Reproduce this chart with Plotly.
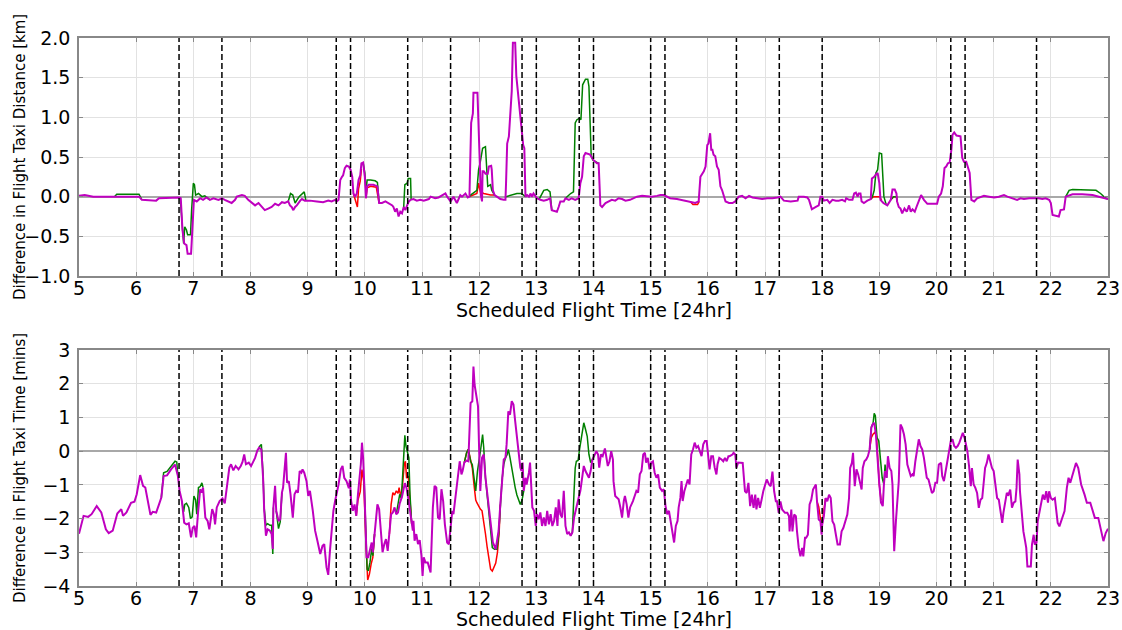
import plotly.graph_objects as go

# ---------------- DATA ----------------
vline_times = [6.75, 7.5, 9.5, 9.75, 10.75, 11.5, 12.75, 13.0, 13.75, 14.0,
               15.0, 15.25, 16.5, 17.25, 18.0, 20.25, 20.5, 21.75]

# Top panel: difference in taxi distance [km] (magenta series, full)
top_mag_t = [5.00, 5.10, 5.25, 5.60, 6.05, 6.10, 6.35, 6.40, 6.75, 6.78, 6.80, 6.81, 6.84, 6.88, 6.90, 6.96, 6.97, 6.99,
             7.01, 7.06, 7.12, 7.17, 7.23, 7.29, 7.35, 7.44, 7.50, 7.55, 7.61, 7.67, 7.73, 7.76, 7.85, 7.90, 7.96,
             8.02, 8.08, 8.14, 8.20, 8.25, 8.31, 8.37, 8.43, 8.49, 8.55, 8.60, 8.66, 8.69, 8.72, 8.75, 8.78, 8.81,
             8.87, 8.90, 8.95, 9.04, 9.16, 9.27, 9.36, 9.42, 9.48, 9.51, 9.54, 9.57, 9.60, 9.62, 9.65, 9.68, 9.72,
             9.75, 9.78, 9.80, 9.83, 9.86, 9.89, 9.92, 9.94, 9.97, 10.00, 10.02, 10.04, 10.07, 10.15, 10.20, 10.22,
             10.25, 10.30, 10.36, 10.42, 10.48, 10.50, 10.53, 10.56, 10.59, 10.62, 10.65, 10.68, 10.71, 10.74,
             10.77, 10.80, 10.85, 10.91, 10.97, 11.03, 11.12, 11.15, 11.23, 11.29, 11.35, 11.41, 11.44, 11.50,
             11.55, 11.61, 11.67, 11.70, 11.76, 11.80, 11.83, 11.86, 11.89, 11.90, 11.97, 11.99, 12.01, 12.03,
             12.05, 12.06, 12.08, 12.11, 12.15, 12.17, 12.21, 12.22, 12.24, 12.27, 12.31, 12.37, 12.43, 12.46,
             12.47, 12.49, 12.52, 12.55, 12.57, 12.59, 12.63, 12.65, 12.68, 12.71, 12.74, 12.77, 12.79, 12.81,
             12.84, 12.87, 12.90, 12.92, 12.95, 13.01, 13.07, 13.13, 13.19, 13.24, 13.27, 13.33, 13.36, 13.39,
             13.42, 13.48, 13.51, 13.57, 13.62, 13.68, 13.74, 13.77, 13.80, 13.83, 13.86, 13.94, 14.00, 14.06,
             14.09, 14.12, 14.15, 14.21, 14.27, 14.32, 14.38, 14.44, 14.50, 14.56, 14.64, 14.70, 14.76, 14.85,
             14.94, 15.02, 15.11, 15.17, 15.23, 15.29, 15.34, 15.46, 15.58, 15.69, 15.78, 15.84, 15.87, 15.93,
             15.96, 15.99, 16.01, 16.04, 16.06, 16.08, 16.10, 16.13, 16.16, 16.19, 16.22, 16.25, 16.31, 16.37,
             16.43, 16.48, 16.54, 16.60, 16.66, 16.72, 16.78, 16.87, 16.95, 17.04, 17.13, 17.22, 17.27, 17.33,
             17.45, 17.57, 17.59, 17.68, 17.74, 17.77, 17.82, 17.89, 17.94, 17.97, 18.00, 18.03, 18.09, 18.13,
             18.18, 18.24, 18.29, 18.35, 18.40, 18.42, 18.47, 18.53, 18.56, 18.59, 18.62, 18.64, 18.67, 18.69,
             18.73, 18.79, 18.85, 18.87, 18.91, 18.94, 18.97, 19.00, 19.02, 19.07, 19.14, 19.20, 19.23, 19.27,
             19.30, 19.31, 19.34, 19.37, 19.40, 19.44, 19.48, 19.52, 19.55, 19.58, 19.62, 19.65, 19.69, 19.73,
             19.78, 19.84, 19.93, 20.01, 20.04, 20.08, 20.11, 20.14, 20.17, 20.20, 20.23, 20.26, 20.28, 20.31,
             20.35, 20.42, 20.45, 20.48, 20.52, 20.55, 20.58, 20.61, 20.66, 20.71, 20.77, 20.83, 20.92, 21.01,
             21.09, 21.18, 21.24, 21.33, 21.41, 21.47, 21.53, 21.62, 21.71, 21.79, 21.85, 21.91, 21.97, 22.00,
             22.03, 22.14, 22.17, 22.23, 22.26, 22.32, 22.38, 22.55, 22.73, 22.84, 23.00]
top_mag_v = [0.01, 0.02, 0.00, 0.00, 0.00, -0.04, -0.05, -0.02, -0.01, -0.02, -0.29, -0.42, -0.59, -0.61, -0.72, -0.72, -0.59, -0.25,
             -0.04, -0.06, -0.02, -0.04, -0.01, -0.04, -0.02, -0.04, -0.02, -0.04, -0.06, -0.08, -0.04, 0.00, 0.02, 0.01, -0.04,
             -0.08, -0.11, -0.08, -0.13, -0.17, -0.15, -0.13, -0.09, -0.11, -0.07, -0.08, -0.06, -0.11, -0.13, -0.17, -0.13, -0.11,
             -0.05, -0.03, -0.05, -0.05, -0.06, -0.07, -0.05, -0.06, -0.04, -0.06, -0.04, 0.21, 0.25, 0.27, 0.36, 0.39, 0.38,
             0.34, 0.25, 0.04, 0.00, 0.04, 0.21, 0.27, 0.42, 0.43, 0.25, -0.02, 0.13, 0.15, 0.15, 0.13, 0.13,
             -0.08, -0.08, -0.06, -0.08, -0.11, -0.13, -0.19, -0.15, -0.25, -0.19, -0.21, -0.13, -0.17, -0.11,
             -0.06, -0.04, -0.03, -0.05, -0.04, -0.05, -0.03, 0.00, -0.02, -0.01, 0.02, 0.04, 0.00, -0.06,
             0.00, -0.08, 0.02, 0.00, 0.04, -0.01, 0.00, 0.93, 1.05, 1.31, 1.31, 0.88, 0.51, 0.02,
             -0.06, 0.32, 0.32, 0.29, 0.29, 0.38, 0.39, 0.34, 0.08, 0.02, 0.00, -0.03, -0.04, -0.04,
             0.17, 0.67, 0.76, 1.22, 1.33, 1.94, 1.94, 1.52, 1.28, 1.05, 0.80, 0.65, 0.61, 0.00,
             0.02, 0.00, 0.04, 0.00, 0.04, -0.02, -0.04, -0.05, -0.04, -0.02, -0.17, -0.19, -0.19, -0.13,
             -0.06, -0.06, -0.02, -0.04, -0.02, -0.04, -0.02, 0.17, 0.25, 0.51, 0.55, 0.53, 0.46, 0.42,
             0.42, -0.11, -0.13, -0.08, -0.06, -0.04, -0.05, -0.02, -0.03, -0.05, -0.04, -0.02, 0.00, 0.01,
             0.00, 0.00, 0.01, 0.02, 0.02, 0.00, -0.02, -0.03, -0.05, -0.06, -0.08, -0.06, 0.25, 0.32,
             0.38, 0.65, 0.67, 0.80, 0.59, 0.59, 0.53, 0.51, 0.38, 0.34, 0.13, 0.08, -0.06, -0.08,
             -0.08, -0.06, 0.00, 0.01, -0.02, 0.01, -0.01, -0.02, -0.03, -0.02, -0.02, -0.01, 0.00, -0.05,
             -0.06, -0.05, 0.00, 0.00, -0.01, -0.04, -0.16, -0.13, -0.11, 0.00, 0.00, -0.05, -0.04, -0.08,
             -0.04, -0.05, -0.05, -0.04, -0.06, -0.02, -0.04, -0.04, 0.04, 0.05, 0.00, 0.04, 0.04, -0.06,
             -0.08, -0.05, -0.03, 0.23, 0.25, 0.28, 0.30, 0.17, -0.04, -0.08, -0.11, -0.04, 0.09, 0.09,
             0.04, -0.06, -0.13, -0.15, -0.21, -0.15, -0.19, -0.11, -0.19, -0.16, -0.19, -0.13, -0.04, 0.02,
             -0.04, -0.09, -0.09, -0.09, 0.00, 0.04, 0.13, 0.36, 0.38, 0.42, 0.43, 0.59, 0.78, 0.81,
             0.77, 0.76, 0.49, 0.44, 0.44, 0.36, 0.30, -0.04, -0.06, -0.02, 0.00, 0.01, 0.00, -0.01,
             0.00, 0.02, 0.00, -0.02, -0.04, -0.02, -0.03, -0.02, -0.02, -0.02, -0.03, -0.02, -0.04, -0.08,
             -0.23, -0.25, -0.17, -0.16, 0.00, 0.02, 0.03, 0.03, 0.02, 0.00, -0.03]

# Top panel: green series where it departs from magenta (segments)
top_green_segments = [
    [(5.62, 0.00), (5.66, 0.03), (6.05, 0.03), (6.10, -0.04)],
    [(6.77, -0.01), (6.80, -0.25), (6.83, -0.59), (6.85, -0.38), (6.88, -0.42), (6.90, -0.48), (6.95, -0.48),
     (6.97, -0.17), (7.00, 0.17), (7.02, 0.15), (7.04, 0.02), (7.09, 0.04), (7.15, 0.00), (7.20, 0.01), (7.29, -0.04)],
    [(8.66, -0.06), (8.70, 0.04), (8.74, 0.02), (8.78, -0.08), (8.85, 0.00), (8.90, 0.04), (8.94, 0.06), (8.97, -0.05)],
    [(9.97, 0.43), (10.00, 0.30), (10.02, 0.05), (10.04, 0.21), (10.10, 0.21), (10.18, 0.20), (10.22, 0.18), (10.25, -0.08)],
    [(10.68, -0.13), (10.70, 0.15), (10.74, 0.17), (10.76, 0.23), (10.80, 0.23), (10.81, -0.04)],
    [(11.83, 0.00), (11.85, 0.02), (11.96, 0.08), (11.99, 0.34), (12.02, 0.44), (12.06, 0.61), (12.11, 0.63),
     (12.13, 0.34), (12.15, 0.13), (12.20, 0.15), (12.22, 0.08), (12.27, 0.02)],
    [(12.47, 0.00), (12.55, 0.02), (12.66, 0.04), (12.74, 0.04), (12.81, 0.00)],
    [(13.05, -0.03), (13.10, 0.04), (13.13, 0.08), (13.19, 0.09), (13.24, 0.06), (13.27, -0.17)],
    [(13.51, -0.02), (13.60, 0.04), (13.65, 0.06), (13.68, 0.93), (13.71, 0.97), (13.76, 0.99), (13.78, 0.97),
     (13.81, 1.41), (13.86, 1.48), (13.90, 1.48), (13.92, 1.39), (13.94, 0.84), (13.96, 0.51), (13.99, 0.46),
     (14.03, 0.44), (14.09, 0.42)],
    [(18.85, -0.03), (18.88, 0.00), (18.91, 0.08), (18.94, 0.30), (18.97, 0.34), (19.00, 0.55), (19.04, 0.54),
     (19.06, 0.17), (19.08, 0.00), (19.12, -0.10)],
    [(19.20, -0.04), (19.25, 0.00), (19.30, 0.00), (19.31, -0.06)],
    [(22.26, 0.00), (22.32, 0.08), (22.38, 0.09), (22.79, 0.08), (22.87, 0.04), (22.96, -0.02), (23.00, -0.03)],
]

# Top panel: red series where it departs from the others (segments)
top_red_segments = [
    [(9.80, 0.04), (9.84, -0.08), (9.87, -0.13), (9.89, 0.10), (9.92, 0.20), (9.94, 0.35)],
    [(10.02, -0.02), (10.04, 0.11), (10.10, 0.13), (10.20, 0.12), (10.25, -0.08)],
    [(11.83, 0.00), (11.96, 0.04), (11.99, 0.17), (12.02, 0.06), (12.08, 0.04), (12.20, 0.02), (12.27, 0.02)],
    [(15.69, -0.06), (15.74, -0.10), (15.82, -0.10), (15.85, -0.06)],
    [(18.85, -0.03), (18.90, 0.00), (19.00, 0.00), (19.04, -0.04)],
    [(19.20, -0.04), (19.25, 0.00), (19.30, 0.00), (19.31, -0.06)],
]

# Bottom panel: difference in taxi time [mins] (magenta series, full)
bot_mag_t = [5.00, 5.08, 5.16, 5.22, 5.31, 5.39, 5.47, 5.52, 5.59, 5.67, 5.74, 5.77, 5.83, 5.91, 5.97, 6.01, 6.07, 6.12,
             6.16, 6.20, 6.25, 6.29, 6.35, 6.40, 6.44, 6.48, 6.54, 6.61, 6.68, 6.73, 6.76, 6.80, 6.84, 6.88, 6.92,
             6.96, 6.99, 7.02, 7.05, 7.08, 7.12, 7.15, 7.17, 7.21, 7.25, 7.28, 7.33, 7.36, 7.38, 7.41, 7.46, 7.51,
             7.55, 7.60, 7.63, 7.66, 7.70, 7.74, 7.79, 7.83, 7.86, 7.89, 7.92, 7.97, 8.01, 8.04, 8.08, 8.12, 8.15,
             8.19, 8.22, 8.24, 8.27, 8.30, 8.34, 8.37, 8.39, 8.40, 8.43, 8.45, 8.49, 8.52, 8.55, 8.57, 8.62, 8.64,
             8.67, 8.70, 8.74, 8.77, 8.80, 8.83, 8.86, 8.89, 8.91, 8.94, 8.98, 9.01, 9.04, 9.09, 9.13, 9.17, 9.22,
             9.26, 9.29, 9.33, 9.36, 9.39, 9.42, 9.45, 9.48, 9.51, 9.54, 9.58, 9.61, 9.64, 9.68, 9.72, 9.74, 9.76,
             9.79, 9.82, 9.85, 9.88, 9.90, 9.93, 9.95, 9.97, 9.99, 10.02, 10.03, 10.06, 10.09, 10.12, 10.14, 10.17,
             10.20, 10.22, 10.25, 10.28, 10.31, 10.34, 10.37, 10.40, 10.43, 10.46, 10.49, 10.52, 10.55, 10.58,
             10.61, 10.65, 10.70, 10.73, 10.76, 10.79, 10.82, 10.84, 10.85, 10.87, 10.90, 10.93, 10.96, 10.99,
             11.01, 11.03, 11.06, 11.10, 11.15, 11.19, 11.22, 11.25, 11.28, 11.31, 11.34, 11.37, 11.40, 11.44,
             11.47, 11.50, 11.53, 11.55, 11.60, 11.63, 11.66, 11.69, 11.71, 11.74, 11.78, 11.81, 11.83, 11.85,
             11.88, 11.90, 11.92, 11.95, 11.98, 12.00, 12.01, 12.02, 12.05, 12.08, 12.11, 12.14, 12.17, 12.20,
             12.24, 12.29, 12.31, 12.34, 12.37, 12.40, 12.43, 12.46, 12.48, 12.51, 12.54, 12.57, 12.60, 12.63,
             12.66, 12.69, 12.72, 12.74, 12.76, 12.78, 12.81, 12.83, 12.87, 12.89, 12.93, 12.96, 12.99, 13.01,
             13.04, 13.07, 13.10, 13.13, 13.16, 13.19, 13.22, 13.25, 13.28, 13.31, 13.34, 13.37, 13.39, 13.42,
             13.45, 13.48, 13.51, 13.54, 13.57, 13.60, 13.63, 13.66, 13.69, 13.71, 13.74, 13.77, 13.80, 13.83,
             13.86, 13.89, 13.92, 13.95, 13.98, 14.01, 14.05, 14.08, 14.10, 14.13, 14.16, 14.20, 14.22, 14.25,
             14.28, 14.31, 14.34, 14.35, 14.38, 14.41, 14.44, 14.47, 14.50, 14.53, 14.55, 14.58, 14.61, 14.64,
             14.67, 14.69, 14.72, 14.75, 14.78, 14.81, 14.84, 14.87, 14.90, 14.92, 14.95, 14.98, 15.01, 15.04,
             15.07, 15.10, 15.13, 15.16, 15.20, 15.23, 15.26, 15.29, 15.32, 15.35, 15.38, 15.41, 15.44, 15.47,
             15.49, 15.52, 15.54, 15.56, 15.59, 15.62, 15.65, 15.68, 15.71, 15.74, 15.77, 15.80, 15.83, 15.86,
             15.89, 15.92, 15.95, 15.98, 16.01, 16.03, 16.06, 16.09, 16.12, 16.15, 16.17, 16.20, 16.24, 16.27,
             16.30, 16.33, 16.36, 16.38, 16.43, 16.45, 16.48, 16.50, 16.53, 16.57, 16.61, 16.65, 16.68, 16.71,
             16.74, 16.77, 16.80, 16.83, 16.85, 16.88, 16.91, 16.94, 16.97, 17.03, 17.07, 17.10, 17.13, 17.16,
             17.19, 17.21, 17.24, 17.27, 17.30, 17.35, 17.39, 17.42, 17.43, 17.46, 17.48, 17.51, 17.54, 17.56,
             17.59, 17.62, 17.65, 17.67, 17.70, 17.72, 17.75, 17.78, 17.81, 17.84, 17.87, 17.89, 17.91, 17.94,
             17.97, 17.99, 18.00, 18.03, 18.06, 18.09, 18.12, 18.15, 18.18, 18.21, 18.24, 18.27, 18.31, 18.34,
             18.37, 18.40, 18.44, 18.47, 18.49, 18.52, 18.54, 18.57, 18.60, 18.63, 18.66, 18.69, 18.71, 18.74,
             18.77, 18.80, 18.83, 18.86, 18.88, 18.91, 18.94, 18.97, 19.00, 19.03, 19.06, 19.08, 19.10, 19.13,
             19.15, 19.18, 19.21, 19.23, 19.26, 19.29, 19.32, 19.34, 19.37, 19.40, 19.43, 19.46, 19.49, 19.52,
             19.55, 19.58, 19.60, 19.63, 19.66, 19.69, 19.72, 19.75, 19.78, 19.80, 19.83, 19.86, 19.89, 19.92,
             19.95, 19.98, 20.01, 20.04, 20.08, 20.10, 20.13, 20.16, 20.19, 20.22, 20.25, 20.28, 20.31, 20.34,
             20.37, 20.40, 20.43, 20.46, 20.49, 20.51, 20.54, 20.57, 20.60, 20.62, 20.65, 20.68, 20.71, 20.74,
             20.77, 20.80, 20.82, 20.85, 20.88, 20.91, 20.94, 20.97, 21.00, 21.03, 21.06, 21.09, 21.12, 21.15,
             21.17, 21.20, 21.23, 21.26, 21.29, 21.32, 21.35, 21.38, 21.40, 21.42, 21.45, 21.46, 21.49, 21.52,
             21.55, 21.57, 21.59, 21.62, 21.65, 21.67, 21.70, 21.72, 21.75, 21.77, 21.80, 21.83, 21.86, 21.89,
             21.92, 21.95, 21.97, 22.00, 22.03, 22.07, 22.10, 22.12, 22.15, 22.18, 22.21, 22.24, 22.28, 22.31,
             22.34, 22.37, 22.41, 22.44, 22.48, 22.53, 22.59, 22.63, 22.69, 22.74, 22.77, 22.83, 22.88, 22.92,
             22.96, 23.00]
bot_mag_v = [-2.45, -1.92, -1.95, -1.87, -1.63, -1.82, -2.32, -2.43, -2.36, -1.85, -1.72, -1.92, -1.82, -1.53, -1.50, -1.28, -0.71, -1.03,
             -1.08, -1.43, -1.89, -1.80, -1.82, -1.58, -1.38, -0.74, -0.72, -0.54, -0.40, -0.74, -1.18, -1.48, -2.12, -2.17, -2.14,
             -2.56, -2.27, -2.22, -2.56, -1.87, -1.13, -1.23, -1.08, -1.97, -2.07, -2.32, -1.72, -1.87, -2.17, -1.67, -1.48, -1.40,
             -1.55, -0.89, -0.49, -0.39, -0.57, -0.44, -0.54, -0.44, -0.32, -0.10, -0.39, -0.34, -0.44, -0.34, -0.20, 0.02, 0.10,
             0.05, -0.79, -1.77, -2.51, -2.32, -2.36, -2.46, -2.90, -1.67, -1.03, -1.77, -2.07, -2.02, -1.23, -1.08, -0.05, -0.94,
             -0.89, -1.28, -1.97, -1.28, -1.18, -1.23, -0.59, -0.64, -0.54, -0.64, -0.89, -1.33, -1.18, -1.77, -2.36, -2.66, -3.05,
             -2.81, -2.76, -3.45, -3.67, -2.96, -2.22, -1.77, -1.48, -1.28, -0.99, -0.54, -0.44, -0.79, -0.89, -1.10, -0.84, -1.48,
             -1.77, -1.58, -1.92, -1.28, -0.99, -0.39, 0.25, -0.20, -0.99, -2.46, -3.15, -3.15, -2.91, -2.71, -3.00, -2.46,
             -2.07, -1.58, -1.72, -2.36, -3.00, -2.76, -2.61, -2.96, -2.46, -1.87, -1.82, -1.67, -1.87, -1.82,
             -1.55, -1.35, -0.95, -1.10, -1.40, -1.77, -2.17, -2.36, -2.07, -2.66, -2.46, -2.76, -2.64, -3.10,
             -3.70, -3.15, -3.30, -3.30, -3.60, -1.67, -1.03, -1.08, -1.97, -2.02, -1.13, -1.48, -2.17, -2.71,
             -2.76, -2.17, -1.77, -1.87, -1.08, -0.79, -0.30, -0.69, -0.59, -0.34, -0.28, -0.30, 0.79, 1.43,
             1.48, 2.51, 1.97, 1.67, 1.33, 0.00, -0.59, -1.18, -0.20, -0.10, -0.79, -1.28, -1.77, -2.27,
             -2.71, -2.91, -2.71, -2.36, -1.58, -0.79, -0.25, -0.20, 0.20, 1.18, 1.08, 1.48, 1.38, 0.89,
             0.39, -0.10, -0.49, -0.59, -0.34, -1.18, -0.79, -0.99, -0.64, -0.34, -1.67, -1.77, -2.22, -1.87,
             -2.02, -1.82, -2.22, -1.97, -2.22, -1.77, -2.17, -1.87, -2.22, -2.07, -1.67, -2.22, -1.43, -1.87,
             -1.97, -1.18, -2.22, -2.46, -2.41, -2.51, -2.41, -1.97, -1.72, -1.58, -1.38, -1.18, -0.79, -0.44,
             -0.59, -0.69, -0.79, -0.59, -0.25, -0.15, 0.00, -0.10, -0.49, -0.10, -0.15, 0.08, -0.10, -0.44,
             -0.30, 0.00, -0.25, -0.89, -1.33, -1.38, -1.43, -1.67, -1.97, -1.48, -1.33, -1.58, -1.97, -1.67,
             -1.58, -1.48, -1.33, -1.18, -1.23, -0.69, -0.59, -0.10, -0.05, -0.34, -0.20, -0.54, -0.34, -0.30,
             -0.64, -0.79, -0.69, -1.08, -1.18, -1.13, -1.63, -1.87, -1.77, -2.12, -2.36, -2.71, -2.22, -2.07,
             -1.67, -1.38, -0.89, -1.48, -1.18, -0.99, -0.84, -0.99, -0.10, 0.05, 0.25, 0.10, 0.15, 0.00,
             -0.15, 0.20, 0.30, 0.30, -0.10, -0.54, -0.15, -0.15, -0.49, -0.69, -0.39, -0.20, -0.25, -0.30,
             -0.20, -0.30, -0.15, -0.15, -0.10, -0.05, -0.10, -0.49, -0.34, -0.34, -0.35, -1.19, -1.24, -0.94,
             -1.63, -1.29, -1.68, -1.29, -1.73, -1.39, -1.68, -1.44, -1.19, -0.84, -0.99, -1.04, -0.61, -1.19,
             -1.49, -1.49, -1.83, -1.49, -1.73, -1.83, -1.83, -1.93, -2.38, -1.73, -2.38, -1.88, -1.93, -2.38,
             -2.87, -3.12, -2.87, -3.12, -2.57, -2.57, -2.48, -1.58, -1.44, -1.14, -1.04, -0.99, -1.49, -2.03,
             -2.08, -2.48, -2.18, -1.93, -1.39, -1.49, -1.29, -1.39, -2.08, -2.18, -2.48, -2.77, -2.77, -2.38,
             -2.28, -2.08, -1.88, -1.39, -0.50, -0.35, -0.05, -1.04, -0.54, -0.69, -0.89, -1.14, -0.50, -0.30,
             -0.25, -0.15, 0.05, 0.69, 0.79, 0.84, 0.50, -0.30, -0.99, -1.53, -1.63, -0.99, -0.59, -0.79,
             -0.15, -0.50, -0.59, -0.99, -2.97, -2.08, -1.29, -0.89, 0.79, 0.69, 0.50, 0.20, -0.40, -0.59,
             -0.74, -0.69, -0.74, -0.30, 0.05, 0.35, 0.15, 0.05, -0.20, -0.50, -0.79, -0.84, -1.04, -1.24,
             -1.19, -0.94, -0.94, -0.40, -0.35, -0.74, -0.89, -0.54, -0.30, 0.00, 0.30, 0.35, 0.15, 0.10,
             0.15, 0.25, 0.40, 0.54, 0.40, 0.20, 0.00, -0.45, -1.04, -0.50, -0.99, -1.09, -1.24, -1.68,
             -1.44, -1.39, -0.94, -0.50, -0.35, -0.10, -0.30, -0.50, -0.59, -0.99, -1.39, -1.44, -1.78, -2.13,
             -1.83, -1.53, -1.24, -1.29, -1.14, -1.68, -1.53, -1.49, -1.09, -0.25, -0.69, -1.19, -1.88, -2.38,
             -2.67, -2.87, -3.42, -3.42, -3.42, -2.77, -2.48, -2.77, -2.72, -2.08, -1.78, -1.58, -1.29, -1.44,
             -1.19, -1.53, -1.19, -1.39, -1.44, -1.39, -1.88, -2.13, -2.23, -2.08, -1.93, -1.78, -1.09, -0.79,
             -0.94, -0.74, -0.50, -0.35, -0.50, -0.99, -1.29, -1.53, -1.53, -1.78, -1.98, -1.98, -2.33, -2.67,
             -2.43, -2.30]

# Bottom panel: green series where it departs from magenta (segments)
bot_green_segments = [
    [(6.44, -1.38), (6.48, -0.64), (6.54, -0.60), (6.61, -0.45), (6.68, -0.30), (6.71, -0.32), (6.73, -0.74)],
    [(6.80, -1.48), (6.83, -1.80), (6.85, -1.58), (6.88, -1.55), (6.92, -1.67), (6.95, -2.00), (6.98, -1.95),
     (7.01, -1.33), (7.04, -1.45), (7.06, -1.87), (7.09, -1.08), (7.12, -1.05), (7.15, -0.94), (7.17, -1.08)],
    [(8.15, 0.12), (8.19, 0.20), (8.22, -0.70), (8.24, -1.70), (8.27, -2.20), (8.30, -2.15), (8.34, -2.20),
     (8.37, -2.20), (8.39, -3.05), (8.40, -1.67)],
    [(8.45, -1.77), (8.49, -2.30), (8.52, -2.10), (8.55, -1.23)],
    [(9.99, -0.99), (10.02, -2.60), (10.04, -3.50), (10.06, -3.55), (10.09, -3.30), (10.12, -2.90), (10.14, -3.10),
     (10.17, -2.46)],
    [(10.55, -1.87), (10.58, -1.58), (10.61, -1.28), (10.64, -1.40), (10.66, -0.79), (10.69, 0.30), (10.70, 0.47),
     (10.72, 0.15), (10.75, -0.10), (10.77, -0.20), (10.79, -1.28), (10.82, -2.17)],
    [(11.74, -0.34), (11.78, -0.05), (11.81, 0.05), (11.85, -0.30), (11.88, -0.40), (11.92, -0.85), (11.94, -1.18),
     (11.97, -0.60), (12.00, -0.30), (12.03, 0.10), (12.06, 0.49), (12.08, 0.10), (12.11, -0.79), (12.14, -1.30),
     (12.17, -1.90), (12.20, -2.46), (12.23, -2.86), (12.27, -2.91), (12.31, -2.91), (12.34, -2.50), (12.37, -1.58),
     (12.40, -0.85), (12.43, -0.40), (12.46, -0.20), (12.49, -0.10), (12.51, 0.05), (12.54, -0.20), (12.58, -0.59),
     (12.61, -0.95), (12.63, -1.08), (12.66, -1.30), (12.69, -1.48), (12.72, -1.58), (12.75, -1.45), (12.78, -1.18)],
    [(13.60, -2.51), (13.63, -2.41), (13.66, -1.20), (13.68, -0.50), (13.70, -0.30), (13.73, -0.28), (13.76, 0.10),
     (13.79, 0.44), (13.83, 0.84), (13.86, 0.65), (13.89, 0.44), (13.92, -0.10), (13.95, -0.34), (13.98, -0.25)],
    [(18.83, 0.05), (18.86, 0.72), (18.89, 0.82), (18.91, 1.12), (18.93, 1.05), (18.96, 0.40), (18.99, 0.30),
     (19.02, -0.40), (19.05, -0.79), (19.08, -0.99), (19.10, -0.40), (19.13, -0.79)],
]

# Bottom panel: red series where it departs from the others (segments)
bot_red_segments = [
    [(9.85, -1.92), (9.88, -1.45), (9.92, -1.20), (9.95, -0.55), (9.98, -0.90), (10.00, -1.60), (10.02, -2.76),
     (10.05, -3.82), (10.08, -3.65), (10.11, -3.35), (10.14, -3.15), (10.17, -2.46)],
    [(10.43, -2.46), (10.46, -1.58), (10.49, -1.23), (10.52, -1.30), (10.55, -1.18), (10.58, -1.25), (10.60, -1.08),
     (10.63, -1.38), (10.66, -0.99), (10.69, -0.39), (10.71, -0.30), (10.73, -0.80), (10.76, -0.74), (10.79, -1.58),
     (10.82, -2.17)],
    [(11.74, -0.34), (11.78, -0.05), (11.81, 0.05), (11.85, -0.30), (11.88, -0.50), (11.91, -1.00), (11.94, -1.45),
     (11.96, -1.53), (11.99, -1.65), (12.02, -1.72), (12.05, -1.77), (12.08, -2.07), (12.11, -2.45), (12.14, -2.85),
     (12.17, -3.25), (12.20, -3.50), (12.23, -3.56), (12.26, -3.45), (12.29, -3.32), (12.32, -3.00), (12.35, -2.40),
     (12.37, -1.58)],
    [(17.91, -1.49), (17.94, -1.65), (17.97, -2.00), (18.00, -2.18), (18.03, -1.75), (18.06, -1.39)],
    [(18.83, 0.05), (18.86, 0.40), (18.89, 0.50), (18.92, 0.55), (18.95, 0.45), (18.97, -0.30), (19.00, -0.99),
     (19.03, -1.45)],
]

x_ticks = list(range(5, 24))
top_y_ticks = [-1.0, -0.5, 0.0, 0.5, 1.0, 1.5, 2.0]
bot_y_ticks = [-4, -3, -2, -1, 0, 1, 2, 3]

# ---------------- FIGURE ----------------
RED = "#FF0000"
GREEN = "#008000"
MAG = "#BF00BF"
FONT = "DejaVu Sans"


def seg_xy(segments):
    xs, ys = [], []
    for seg in segments:
        for t, v in seg:
            xs.append(t)
            ys.append(v)
        xs.append(None)
        ys.append(None)
    return xs, ys


fig = go.Figure()

for xa, ya, red, green, mt, mv in [
    ("x", "y", top_red_segments, top_green_segments, top_mag_t, top_mag_v),
    ("x2", "y2", bot_red_segments, bot_green_segments, bot_mag_t, bot_mag_v),
]:
    rx, ry = seg_xy(red)
    gx, gy = seg_xy(green)
    fig.add_trace(go.Scatter(x=rx, y=ry, mode="lines", line=dict(color=RED, width=1.5),
                             xaxis=xa, yaxis=ya, showlegend=False, connectgaps=False, hoverinfo="skip"))
    fig.add_trace(go.Scatter(x=gx, y=gy, mode="lines", line=dict(color=GREEN, width=1.5),
                             xaxis=xa, yaxis=ya, showlegend=False, connectgaps=False, hoverinfo="skip"))
    fig.add_trace(go.Scatter(x=mt, y=mv, mode="lines", line=dict(color=MAG, width=2),
                             xaxis=xa, yaxis=ya, showlegend=False, hoverinfo="skip"))

shapes = []
for xr, yr in [("x", "y domain"), ("x2", "y2 domain")]:
    for t in vline_times:
        shapes.append(dict(type="line", xref=xr, yref=yr, x0=t, x1=t, y0=0, y1=1,
                           line=dict(color="black", width=1.5, dash="6px,3px"), layer="above"))

axis_common = dict(
    showline=True, mirror="ticks", linecolor="#888888", linewidth=1.5,
    ticks="inside", ticklen=4, tickcolor="#888888",
    showgrid=True, gridcolor="#e2e2e2", gridwidth=1, automargin=False,
    tickfont=dict(family=FONT, size=19, color="black"),
)

fig.update_layout(
    width=1122, height=630, autosize=False,
    margin=dict(l=79, r=14, t=38, b=44, autoexpand=False),
    paper_bgcolor="white", plot_bgcolor="white",
    font=dict(family=FONT, color="black"),
    shapes=shapes,
    xaxis=dict(domain=[0, 1], range=[5, 23], tickvals=x_ticks, anchor="y",
               zeroline=False, ticklabelstandoff=-6, **axis_common),
    yaxis=dict(domain=[0.5657, 1], range=[-1, 2], tickvals=top_y_ticks, tickformat=".1f", anchor="x",
               zeroline=True, zerolinecolor="#a8a8a8", zerolinewidth=1.5, ticklabelstandoff=3, **axis_common),
    xaxis2=dict(domain=[0, 1], range=[5, 23], tickvals=x_ticks, anchor="y2",
                zeroline=False, ticklabelstandoff=-6, **axis_common),
    yaxis2=dict(domain=[0, 0.4307], range=[-4, 3], tickvals=bot_y_ticks, anchor="x2",
                zeroline=True, zerolinecolor="#a8a8a8", zerolinewidth=1.5, ticklabelstandoff=3, **axis_common),
    annotations=[
        dict(text="Scheduled Flight Time [24hr]", xref="paper", yref="paper", x=0.5, y=0.5036,
             xanchor="center", yanchor="middle", showarrow=False, font=dict(family=FONT, size=19)),
        dict(text="Scheduled Flight Time [24hr]", xref="paper", yref="paper", x=0.5, y=-0.0602,
             xanchor="center", yanchor="middle", showarrow=False, font=dict(family=FONT, size=19)),
        dict(text="Difference in Flight Taxi Distance [km]", xref="paper", yref="paper", x=-0.0573, y=0.7828,
             xanchor="center", yanchor="middle", textangle=-90, showarrow=False, font=dict(family=FONT, size=15)),
        dict(text="Difference in Flight Taxi Time [mins]", xref="paper", yref="paper", x=-0.0573, y=0.2153,
             xanchor="center", yanchor="middle", textangle=-90, showarrow=False, font=dict(family=FONT, size=15)),
    ],
)

fig.write_html("out.html", config={"displayModeBar": False},
               post_script="document.body.style.margin='0px';document.body.style.overflow='hidden';")
